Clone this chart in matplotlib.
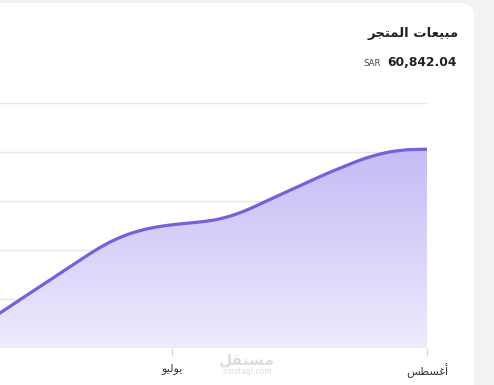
import numpy as np
import matplotlib
matplotlib.use("Agg")
import matplotlib.pyplot as plt
from matplotlib.patches import FancyBboxPatch, PathPatch
from matplotlib.path import Path
from matplotlib.transforms import IdentityTransform

# ---------------- data ----------------
days = [-21, -19, -17, -15, -13, -11, -9, -7, -5, -3, -1, 1, 3, 5, 7, 9, 11, 13,
        15, 17, 19, 21, 23, 25, 27, 29, 31]  # days from 1 July
sales = [10561, 13898, 17235, 20541, 23877, 27183, 30383, 33083, 35083, 36483,
         37383, 37983, 38483, 39133, 40333, 42133, 44433, 46733, 49033, 51333,
         53583, 55633, 57633, 59183, 60233, 60733, 60842]
tick_days = [0, 31]
tick_labels = ["يوليو", "أغسطس"]
y_ticks = [0, 15000, 30000, 45000, 60000, 75000]
title = "مبيعات المتجر"
total = "60,842.04"
currency = "SAR"

# ------------- minimal Arabic shaping (matplotlib has no RTL shaping) -------------
FORMS = {
    'ا': ('\uFE8D', '\uFE8E', None, None),
    'أ': ('\uFE83', '\uFE84', None, None),
    'ب': ('\uFE8F', '\uFE90', '\uFE91', '\uFE92'),
    'ت': ('\uFE95', '\uFE96', '\uFE97', '\uFE98'),
    'ج': ('\uFE9D', '\uFE9E', '\uFE9F', '\uFEA0'),
    'ر': ('\uFEAD', '\uFEAE', None, None),
    'س': ('\uFEB1', '\uFEB2', '\uFEB3', '\uFEB4'),
    'ط': ('\uFEC1', '\uFEC2', '\uFEC3', '\uFEC4'),
    'ع': ('\uFEC9', '\uFECA', '\uFECB', '\uFECC'),
    'غ': ('\uFECD', '\uFECE', '\uFECF', '\uFED0'),
    'ق': ('\uFED5', '\uFED6', '\uFED7', '\uFED8'),
    'ل': ('\uFEDD', '\uFEDE', '\uFEDF', '\uFEE0'),
    'م': ('\uFEE1', '\uFEE2', '\uFEE3', '\uFEE4'),
    'و': ('\uFEED', '\uFEEE', None, None),
    'ي': ('\uFEF1', '\uFEF2', '\uFEF3', '\uFEF4'),
}


def shape(text):
    out = []
    for i, c in enumerate(text):
        if c not in FORMS:
            out.append(c)
            continue
        prev = text[i - 1] if i > 0 else None
        nxt = text[i + 1] if i + 1 < len(text) else None
        jp = prev in FORMS and FORMS[prev][2] is not None
        jn = FORMS[c][2] is not None and nxt in FORMS
        iso, fin, ini, med = FORMS[c]
        if jp and jn:
            out.append(med)
        elif jp:
            out.append(fin)
        elif jn:
            out.append(ini)
        else:
            out.append(iso)
    return ''.join(reversed(out))


def smooth_path(xs, ys):
    """Monotone cubic (Fritsch-Carlson) curve through the points as Bezier segments."""
    x = np.asarray(xs, float)
    y = np.asarray(ys, float)
    h = np.diff(x)
    d = np.diff(y) / h
    m = np.empty_like(y)
    m[0], m[-1] = d[0], d[-1]
    for i in range(1, len(x) - 1):
        if d[i - 1] * d[i] <= 0:
            m[i] = 0.0
        else:
            w1 = 2 * h[i] + h[i - 1]
            w2 = h[i] + 2 * h[i - 1]
            m[i] = (w1 + w2) / (w1 / d[i - 1] + w2 / d[i])
    verts = [(x[0], y[0])]
    codes = [Path.MOVETO]
    for i in range(len(x) - 1):
        verts += [(x[i] + h[i] / 3, y[i] + m[i] * h[i] / 3),
                  (x[i + 1] - h[i] / 3, y[i + 1] - m[i + 1] * h[i] / 3),
                  (x[i + 1], y[i + 1])]
        codes += [Path.CURVE4] * 3
    return verts, codes


plt.rcParams['font.family'] = ['DejaVu Sans']

W, H = 494, 385
fig = plt.figure(figsize=(W / 100, H / 100), dpi=100)
fig.patch.set_facecolor('#f2f2f2')

# white card with rounded top-right corner
card = FancyBboxPatch((-40, -40), 474 + 40, 382 + 40,
                      boxstyle="round,pad=0,rounding_size=14",
                      transform=IdentityTransform(), facecolor='white',
                      edgecolor='none', zorder=0)
fig.add_artist(card)

# axes: plot area px x 0..427, y 103..348 (from top)
ax = fig.add_axes([0, (H - 348) / H, 427 / W, 245 / H])
ax.set_facecolor('none')
ax.set_zorder(1)
x_left = (0 - 172) / 8.226
ax.set_xlim(x_left, 31)
ax.set_ylim(0, 75000)

for s in ax.spines.values():
    s.set_visible(False)

ax.set_yticks(y_ticks)
ax.tick_params(axis='y', left=False, labelleft=False)
ax.yaxis.grid(True, color='#e6e6e6', linewidth=1.0)
ax.set_axisbelow(True)

ax.set_xticks(tick_days)
ax.set_xticklabels([shape(t) for t in tick_labels], fontsize=8, color='#333333')
ax.tick_params(axis='x', length=5.5, width=0.8, color='#d4d4d4', pad=5.5)

# smooth curve path
verts, codes = smooth_path(days, sales)
fill_verts = verts + [(days[-1], 0), (days[0], 0), (days[0], sales[0])]
fill_codes = codes + [Path.LINETO, Path.LINETO, Path.CLOSEPOLY]
fill_path = Path(fill_verts, fill_codes)

# gradient fill under line
top_c = np.array([196, 188, 246]) / 255
bot_c = np.array([238, 235, 253]) / 255
ymax = max(sales)
n = 256
t = np.linspace(0, 1, n)[:, None]  # 0 at bottom, 1 at top
grad = (bot_c[None, :] * (1 - t) + top_c[None, :] * t)[:, None, :]
img = ax.imshow(grad, extent=[x_left, 31, 0, ymax], origin='lower',
                aspect='auto', zorder=1.5, interpolation='bilinear')
img.set_clip_path(fill_path, transform=ax.transData)
ax.set_xlim(x_left, 31)
ax.set_ylim(0, 75000)

line = PathPatch(Path(verts, codes), facecolor='none', edgecolor='#7461db',
                 linewidth=2.3, joinstyle='round', capstyle='butt',
                 transform=ax.transData, zorder=3)
ax.add_patch(line)

# header texts
fig.text(459 / W, 1 - 33 / H, shape(title), ha='right', va='center',
         fontsize=9.5, fontweight='bold', color='#222222')
fig.text(457 / W, 1 - 62 / H, total, ha='right', va='center',
         fontsize=8.8, fontweight='bold', color='#222222')
fig.text(381 / W, 1 - 63.5 / H, currency, ha='right', va='center',
         fontsize=6.2, color='#444444')

# watermark
fig.text(247 / W, 1 - 360 / H, shape("مستقل"), ha='center', va='center',
         fontsize=11, fontweight='bold', color='#dcdcdc', zorder=5)
fig.text(247 / W, 1 - 372 / H, "mostaql.com", ha='center', va='center',
         fontsize=5.5, color='#dcdcdc', zorder=5)

fig.savefig('out.png', dpi=100, facecolor=fig.get_facecolor())
